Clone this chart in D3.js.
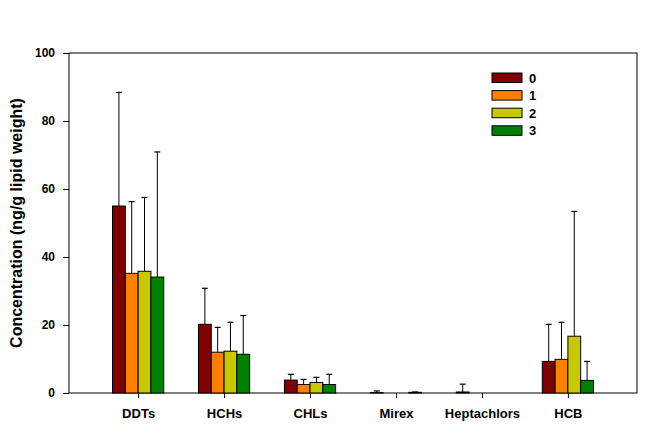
<!DOCTYPE html>
<html>
<head>
<meta charset="utf-8">
<script src="https://cdn.jsdelivr.net/npm/d3@7"></script>
<style>
html,body{margin:0;padding:0;background:#fff;}
svg{display:block;font-family:"Liberation Sans",Arial,sans-serif;font-weight:bold;}
</style>
</head>
<body>
<svg id="chart" width="665" height="437"></svg>
<script>
const categories = ["DDTs","HCHs","CHLs","Mirex","Heptachlors","HCB"];
const seriesNames = ["0","1","2","3"];
const colors = ["#800000","#ff8000","#c8c800","#008000"];
// mean values per series (one array per series, across categories)
const values0 = [55.0, 20.2, 3.8, 0.1, 0.3, 9.3];
const values1 = [35.2, 12.0, 2.5, 0.0, 0.0, 9.9];
const values2 = [35.8, 12.3, 3.1, 0.0, 0.0, 16.7];
const values3 = [34.1, 11.4, 2.5, 0.2, 0.0, 3.7];
// upper error bar ends (mean + SD)
const errTop0 = [88.4, 30.8, 5.5, 0.6, 2.6, 20.2];
const errTop1 = [56.3, 19.3, 4.0, 0.0, 0.0, 20.8];
const errTop2 = [57.5, 20.8, 4.6, 0.0, 0.0, 53.4];
const errTop3 = [70.9, 22.8, 5.5, 0.3, 0.0, 9.3];
const yTicks = [0,20,40,60,80,100];
const yTitle = "Concentration (ng/g lipid weight)";

const values = [values0, values1, values2, values3];
const errTops = [errTop0, errTop1, errTop2, errTop3];

const svg = d3.select("#chart");
const L = 69, R = 637, T = 53, B = 393;

const x = d3.scalePoint().domain(categories).range([L, R]).padding(0.804);
const xs = d3.scaleBand().domain(seriesNames).range([-25.6, 25.6]).padding(0);
const y = d3.scaleLinear().domain([0, 100]).range([B, T]);

// frame
svg.append("rect").attr("x", L).attr("y", T).attr("width", R - L).attr("height", B - T)
  .attr("fill", "none").attr("stroke", "#000").attr("stroke-width", 1);

// bars and error bars
seriesNames.forEach((s, si) => {
  const g = svg.append("g");
  categories.forEach((c, ci) => {
    const v = values[si][ci];
    const e = errTops[si][ci];
    const x0 = x(c) + xs(s);
    const bw = xs.bandwidth();
    const cx = x0 + bw / 2;
    if (e > v) {
      g.append("line").attr("x1", cx).attr("x2", cx).attr("y1", y(v)).attr("y2", y(e))
        .attr("stroke", "#000").attr("stroke-width", 1);
      g.append("line").attr("x1", cx - 3).attr("x2", cx + 3).attr("y1", y(e)).attr("y2", y(e))
        .attr("stroke", "#000").attr("stroke-width", 1.2);
    }
    if (v > 0) {
      g.append("rect").attr("x", x0).attr("y", y(v)).attr("width", bw)
        .attr("height", y(0) - y(v))
        .attr("fill", colors[si]).attr("stroke", "#000").attr("stroke-width", 1);
    }
  });
});

// y axis
const yAxis = d3.axisLeft(y).tickValues(yTicks).tickSize(6).tickPadding(8);
const ya = svg.append("g").attr("transform", `translate(${L},0)`).call(yAxis);
ya.select(".domain").remove();
ya.selectAll("text").attr("font-size", 12).attr("font-weight", "bold")
  .attr("font-family", "Liberation Sans, Arial, sans-serif").attr("fill", "#000");
ya.selectAll("line").attr("stroke", "#000");

// x axis
const xAxis = d3.axisBottom(x).tickSize(5).tickPadding(11);
const xa = svg.append("g").attr("transform", `translate(0,${B})`).call(xAxis);
xa.select(".domain").remove();
xa.selectAll("text").attr("font-size", 13).attr("font-weight", "bold")
  .attr("font-family", "Liberation Sans, Arial, sans-serif").attr("fill", "#000");
xa.selectAll("line").attr("stroke", "#000");

// y title
svg.append("text").attr("transform", `translate(22,223) rotate(-90)`)
  .attr("text-anchor", "middle").attr("font-size", 16).attr("fill", "#000").text(yTitle);

// legend
const lg = svg.append("g").attr("transform", "translate(492,73)");
seriesNames.forEach((s, i) => {
  lg.append("rect").attr("x", 0).attr("y", i * 17.6).attr("width", 30).attr("height", 9.5)
    .attr("fill", colors[i]).attr("stroke", "#000").attr("stroke-width", 1);
  lg.append("text").attr("x", 37).attr("y", i * 17.6 + 9.5).attr("font-size", 13)
    .attr("fill", "#000").text(s);
});
</script>
</body>
</html>
